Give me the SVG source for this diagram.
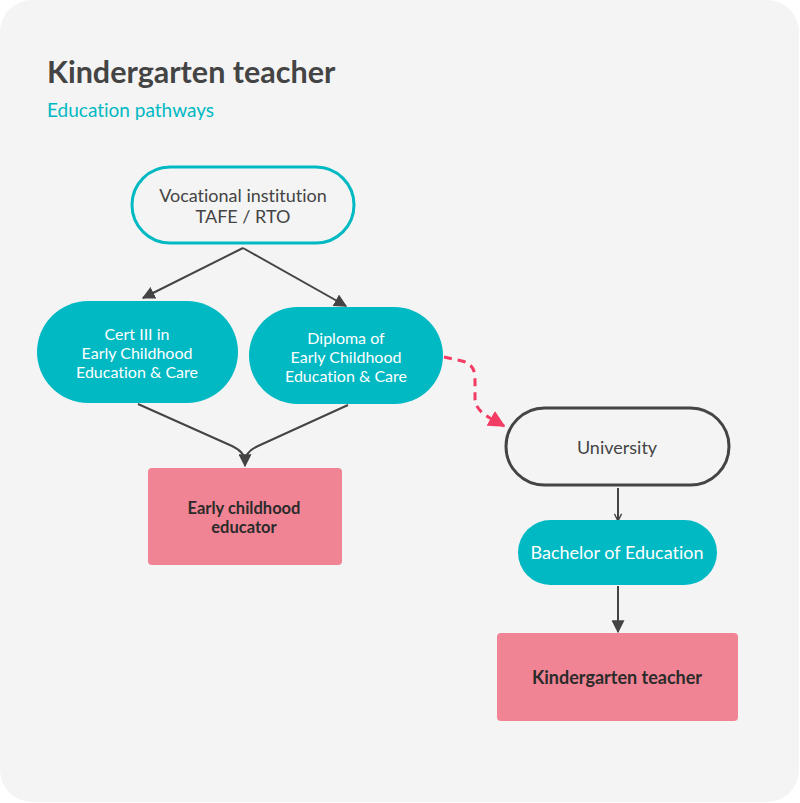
<svg xmlns="http://www.w3.org/2000/svg" width="800" height="803" viewBox="0 0 800 803">
<style>
text{font-family:Lato,"Open Sans","Liberation Sans",sans-serif;text-anchor:middle;font-variant-ligatures:none}
.dark{fill:#444}
.wt{fill:#fff;font-size:18px}
.sm{font-size:16px}
.dk{fill:#444;font-size:18px}
.bold{fill:#2b2b2b;font-size:18px;font-weight:bold}
.teal{fill:#00b9c3}
.pink{fill:#f08494}
.edge{fill:none;stroke:#444;stroke-width:2}
</style>
<defs>
<marker id="ah" viewBox="0 0 10 10" refX="9" refY="5" markerWidth="9" markerHeight="9" orient="auto" markerUnits="userSpaceOnUse"><path d="M1,1 L9,5 L1,9" fill="none" stroke="#444" stroke-width="1.6"/></marker>
<marker id="ahb" viewBox="0 0 10 10" refX="9" refY="5" markerWidth="13" markerHeight="13" orient="auto" markerUnits="userSpaceOnUse"><path d="M0,0 L10,5 L0,10 z" fill="#444"/></marker>
<marker id="ahp" viewBox="0 0 10 10" refX="9" refY="5" markerWidth="17" markerHeight="17" orient="auto" markerUnits="userSpaceOnUse"><path d="M0,0 L10,5 L0,10 z" fill="#f23c64"/></marker>
</defs>
<rect x="0" y="0" width="800" height="803" fill="#fff"/>
<rect x="0" y="0" width="799" height="802" rx="32" fill="#f4f4f4"/>
<g id="title">
<text x="47" y="83" style="text-anchor:start;font-size:30.5px;font-weight:bold" class="dark">Kindergarten teacher</text>
<text x="47" y="117" style="text-anchor:start;font-size:19px" class="teal">Education pathways</text>
</g>
<g id="connectors">
<path class="edge" d="M243,248 L143,298" marker-end="url(#ahb)"/>
<path class="edge" d="M243,248 L346,306" marker-end="url(#ahb)"/>
<path class="edge" d="M138,404 L232,446 Q245,452 245,462 L245,466" marker-end="url(#ahb)"/>
<path class="edge" d="M348,405 L258,446 Q245,452 245,462"/>
<path class="edge" d="M618,488 L618,521" marker-end="url(#ah)"/>
<path class="edge" d="M618,586 L618,632" marker-end="url(#ahb)"/>
<path d="M444,357 L462,361 Q475,364 475,378 L475,398 Q475,410 490,418 L504,426" fill="none" stroke="#f23c64" stroke-width="3" stroke-dasharray="8,6" marker-end="url(#ahp)"/>
</g>
<g id="vocational">
<rect x="132" y="167" width="222" height="76" rx="38" fill="#f4f4f4" stroke="#00b9c3" stroke-width="3"/>
<text class="dk" x="243" y="202">Vocational institution</text>
<text class="dk" x="243" y="223">TAFE / RTO</text>
</g>
<g id="cert3">
<rect x="37" y="301" width="201" height="102" rx="51" class="teal"/>
<text class="wt sm" x="137" y="340">Cert III in</text>
<text class="wt sm" x="137" y="359">Early Childhood</text>
<text class="wt sm" x="137" y="378">Education &amp; Care</text>
</g>
<g id="diploma">
<rect x="249" y="307" width="194" height="97" rx="48.5" class="teal"/>
<text class="wt sm" x="346" y="344">Diploma of</text>
<text class="wt sm" x="346" y="363">Early Childhood</text>
<text class="wt sm" x="346" y="382">Education &amp; Care</text>
</g>
<g id="educator">
<rect x="148" y="468" width="194" height="97" rx="4" class="pink"/>
<text class="bold" style="font-size:16.5px" x="244" y="514">Early childhood</text>
<text class="bold" style="font-size:16.5px" x="244" y="533">educator</text>
</g>
<g id="university">
<rect x="506" y="408" width="223" height="77" rx="38.5" fill="#f4f4f4" stroke="#444" stroke-width="3"/>
<text class="dk" x="617" y="454">University</text>
</g>
<g id="bachelor">
<rect x="518" y="520" width="199" height="65" rx="32.5" class="teal"/>
<text class="wt" x="617" y="559">Bachelor of Education</text>
</g>
<g id="kteacher">
<rect x="497" y="633" width="241" height="88" rx="4" class="pink"/>
<text class="bold" x="617" y="684">Kindergarten teacher</text>
</g>
</svg>
